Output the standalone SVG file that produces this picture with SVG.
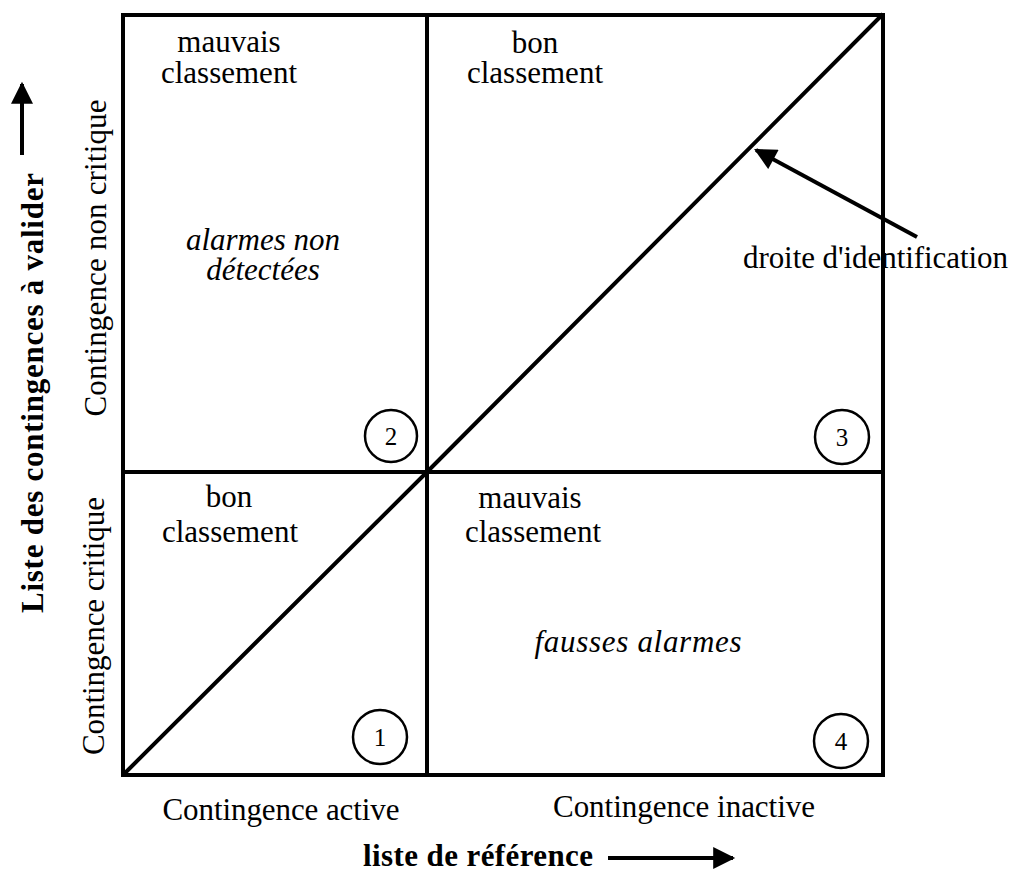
<svg xmlns="http://www.w3.org/2000/svg" width="1011" height="872" viewBox="0 0 1011 872" font-family="'Liberation Serif', 'Times New Roman', serif">
<style>
text{font-family:"Liberation Serif","Times New Roman",serif;fill:#000}
.t{font-size:31px}
.m{text-anchor:middle}
.i{font-style:italic}
.b{font-weight:bold}
.ln{stroke:#000;stroke-width:4;fill:none}
.c{stroke:#000;stroke-width:2.5;fill:#fff}
.d{font-size:25px;text-anchor:middle}
</style>
<defs>
<marker id="ah" viewBox="0 0 10 10" refX="9" refY="5" markerWidth="6" markerHeight="5.5" markerUnits="strokeWidth" orient="auto">
<path d="M0,0 L10,5 L0,10 Z" fill="#000"/>
</marker>
</defs>
<rect width="1011" height="872" fill="#fff"/>
<g id="connectors">
<rect class="ln" x="123" y="15" width="760" height="760"/>
<line class="ln" x1="427" y1="15" x2="427" y2="775" stroke-width="3.5"/>
<line class="ln" x1="123" y1="472" x2="883" y2="472" stroke-width="3.5"/>
<polyline class="ln" points="123,775 427,472 883,14"/>
<line class="ln" x1="917" y1="237" x2="756" y2="150" marker-end="url(#ah)"/>
<line class="ln" x1="22" y1="155" x2="22" y2="84" stroke-width="3.5" marker-end="url(#ah)"/>
<line class="ln" x1="608" y1="858" x2="733" y2="858" stroke-width="3" marker-end="url(#ah)"/>
</g>
<g id="q2">
<text class="t m"><tspan x="229" y="52">mauvais</tspan><tspan x="229" y="83">classement</tspan></text>
<text class="t m i"><tspan x="263" y="250">alarmes non</tspan><tspan x="263" y="280">détectées</tspan></text>
<circle class="c" cx="391" cy="436" r="26"/>
<text class="d" x="391" y="445">2</text>
</g>
<g id="q3">
<text class="t m"><tspan x="535" y="53">bon</tspan><tspan x="535" y="83">classement</tspan></text>
<circle class="c" cx="842" cy="437" r="27"/>
<text class="d" x="842" y="446">3</text>
</g>
<g id="q1">
<text class="t m"><tspan x="229" y="507">bon</tspan><tspan x="230" y="542">classement</tspan></text>
<circle class="c" cx="380" cy="737" r="27"/>
<text class="d" x="380" y="746">1</text>
</g>
<g id="q4">
<text class="t m"><tspan x="530" y="508">mauvais</tspan><tspan x="533" y="542">classement</tspan></text>
<text class="t m i" x="638" y="652" textLength="207">fausses alarmes</text>
<circle class="c" cx="841" cy="741" r="27"/>
<text class="d" x="841" y="750">4</text>
</g>
<g id="label-droite">
<text class="t" x="743" y="268" textLength="265">droite d'identification</text>
</g>
<g id="axis-x">
<text class="t m" x="281" y="820" textLength="237">Contingence active</text>
<text class="t m" x="684" y="817" textLength="262">Contingence inactive</text>
<text class="t b" x="363" y="866" textLength="230">liste de référence</text>
</g>
<g id="axis-y">
<text class="t m b" transform="translate(43,393) rotate(-90)" textLength="440">Liste des contingences à valider</text>
<text class="t m" transform="translate(106,258) rotate(-90)" textLength="317">Contingence non critique</text>
<text class="t m" transform="translate(104,626) rotate(-90)" textLength="258">Contingence critique</text>
</g>
</svg>
